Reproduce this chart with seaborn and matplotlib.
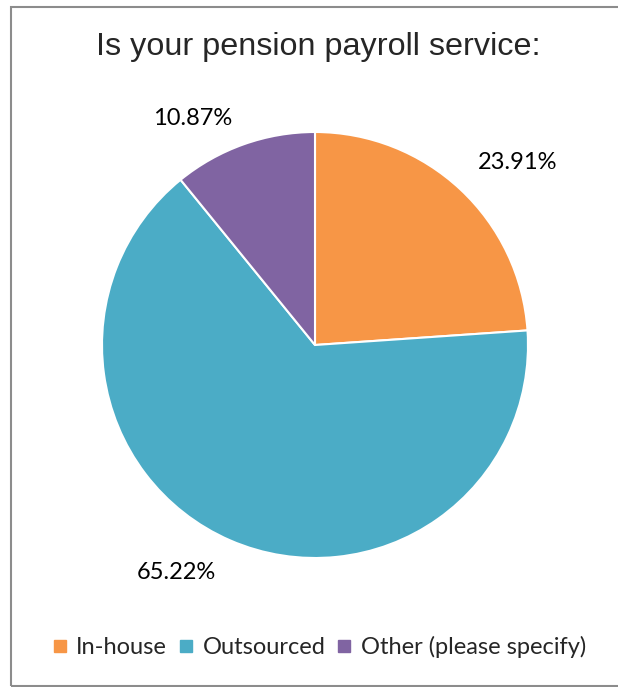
import matplotlib
matplotlib.use('Agg')
import matplotlib.pyplot as plt
import seaborn as sns
import numpy as np
from matplotlib.patches import Rectangle
from matplotlib.lines import Line2D

# data
categories = ['In-house', 'Outsourced', 'Other (please specify)']
shares = [23.91, 65.22, 10.87]
colors = ['#F79646', '#4BACC6', '#8064A2']
# label spots (angle in degrees, radius) chosen to match the original layout
label_angle = [42, 238.6, 118.4]
label_radius = [1.28, 1.25, 1.21]

sns.set_style('white')
plt.rcParams['font.family'] = ['Lato', 'DejaVu Sans']

fig = plt.figure(figsize=(6.18, 6.87), dpi=100)
W, H = 618, 687

# outer frame like the excel chart area (right edge falls outside the image)
fig.patches.append(Rectangle((10.5 / W, 1 - 686 / H), 1.1, (686 - 6.5) / H,
                             transform=fig.transFigure, fill=False,
                             edgecolor='#8c8c8c', linewidth=1.5))

ax = fig.add_axes([102 / W, (H - 558) / H, 426 / W, 426 / H])
ax.pie(shares, colors=colors, startangle=90, counterclock=False,
       wedgeprops=dict(edgecolor='white', linewidth=1.5))
ax.set_xlim(-1, 1)
ax.set_ylim(-1, 1)
ax.set_aspect('equal')
ax.axis('off')

for v, a, r in zip(shares, label_angle, label_radius):
    t = np.deg2rad(a)
    ax.text(r * np.cos(t), r * np.sin(t), f'{v:.2f}%', ha='center', va='center',
            fontsize=17, color='black', clip_on=False)

fig.text(318 / W, 1 - 47 / H, 'Is your pension payroll service:',
         ha='center', va='center', fontsize=23.3, family=['Liberation Sans', 'DejaVu Sans'])

handles = [Line2D([], [], marker='s', linestyle='', markersize=8.5, color=c) for c in colors]
fig.legend(handles, categories, loc='center', bbox_to_anchor=(320 / W, 1 - 647 / H),
           ncol=3, frameon=False, fontsize=17, handlelength=0.5, handletextpad=0.45,
           columnspacing=0.55)

fig.savefig('out.png', dpi=100)
